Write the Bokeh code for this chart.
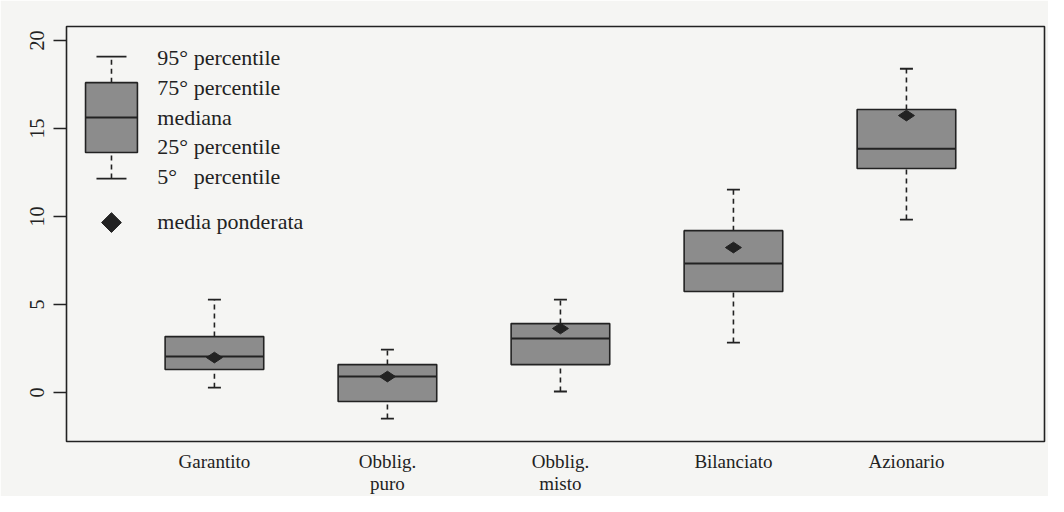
import math
from bokeh.plotting import figure
from bokeh.models import Range1d, FixedTicker, ColumnDataSource
from bokeh.core.properties import value
from bokeh.embed import file_html
from bokeh.resources import INLINE

# ---- data ----
categories = ["Garantito", "Obblig.\npuro", "Obblig.\nmisto", "Bilanciato", "Azionario"]
p05 = [0.28, -1.48, 0.06, 2.84, 9.83]
p25 = [1.31, -0.51, 1.59, 5.74, 12.73]
median = [2.05, 0.91, 3.07, 7.33, 13.86]
p75 = [3.18, 1.59, 3.92, 9.20, 16.08]
p95 = [5.28, 2.44, 5.28, 11.53, 18.40]
media_ponderata = [1.99, 0.91, 3.64, 8.24, 15.74]

legend_labels = ["95° percentile", "75° percentile", "mediana", "25° percentile",
                 "5°\u00a0\u00a0\u00a0percentile", "media ponderata"]

# ---- styling ----
BG = "#f5f5f3"
DARK = "#222222"
BOXFILL = "#8c8c8c"
FONT = "Liberation Serif, Times New Roman, serif"
BOX_W = 0.57

xs = list(range(1, len(categories) + 1))
src = ColumnDataSource(dict(x=xs, p05=p05, p25=p25, med=median, p75=p75, p95=p95,
                            mean=media_ponderata,
                            mid=[(a + b) / 2 for a, b in zip(p25, p75)],
                            h=[b - a for a, b in zip(p25, p75)]))

p = figure(width=1048, height=496, output_backend="svg", toolbar_location=None,
           x_range=Range1d(0.145, 5.798), y_range=Range1d(-2.78, 20.8),
           min_border_left=66, min_border_right=4, min_border_top=26, min_border_bottom=30,
           background_fill_color=BG, border_fill_color=BG)
p.grid.visible = False
p.outline_line_color = DARK
p.outline_line_width = 1.6

# whiskers
p.segment(x0="x", y0="p75", x1="x", y1="p95", source=src, line_color=DARK,
          line_width=1.6, line_dash="5 4")
p.segment(x0="x", y0="p05", x1="x", y1="p25", source=src, line_color=DARK,
          line_width=1.6, line_dash="5 4")
p.dash(x="x", y="p95", source=src, size=13, line_color=DARK, line_width=1.8)
p.dash(x="x", y="p05", source=src, size=13, line_color=DARK, line_width=1.8)
# boxes
p.rect(x="x", y="mid", width=BOX_W, height="h", source=src, fill_color=BOXFILL,
       line_color=DARK, line_width=1.6)
p.dash(x="x", y="med", source=src, size=98, line_color=DARK, line_width=2)
# weighted mean
p.scatter(x="x", y="mean", source=src, marker="diamond", size=16, angle=math.pi / 2,
          fill_color=DARK, line_color=DARK)

# ---- legend (drawn) ----
lx = 0.405
p.dash(x=[lx], y=[19.09], size=30, line_color=DARK, line_width=1.8)
p.dash(x=[lx], y=[12.16], size=30, line_color=DARK, line_width=1.8)
p.segment(x0=[lx, lx], y0=[17.61, 12.16], x1=[lx, lx], y1=[19.09, 13.64],
          line_color=DARK, line_width=1.6, line_dash="5 4")
p.rect(x=[lx], y=[15.625], width=0.30, height=[17.61 - 13.64], fill_color=BOXFILL,
       line_color=DARK, line_width=1.6)
p.dash(x=[lx], y=[15.63], size=52, line_color=DARK, line_width=1.8)
p.scatter(x=[lx], y=[9.66], marker="square", size=14, angle=math.pi / 4,
          fill_color=DARK, line_color=DARK)
p.text(x=[0.67] * 6, y=[19.03, 17.33, 15.63, 13.98, 12.27, 9.72], text=legend_labels,
       text_font=value(FONT), text_font_size="22px", text_color=DARK,
       text_baseline="middle", text_align="left")

# ---- axes ----
p.xaxis.ticker = FixedTicker(ticks=xs)
p.xaxis.major_label_overrides = {x: c for x, c in zip(xs, categories)}
p.xaxis.major_tick_line_color = None
p.xaxis.minor_tick_line_color = None
p.xaxis.axis_line_color = None
p.xaxis.major_label_standoff = 3
p.xaxis.major_label_text_line_height = 1.05
p.xaxis.major_label_text_font = FONT
p.xaxis.major_label_text_font_size = "19px"
p.xaxis.major_label_text_color = DARK

p.yaxis.ticker = FixedTicker(ticks=[0, 5, 10, 15, 20])
p.yaxis.major_label_orientation = "vertical"
p.yaxis.axis_line_color = None
p.yaxis.minor_tick_line_color = None
p.yaxis.major_tick_line_color = DARK
p.yaxis.major_tick_line_width = 1.5
p.yaxis.major_tick_out = 13
p.yaxis.major_tick_in = 0
p.yaxis.major_label_standoff = 9
p.yaxis.major_label_text_font = FONT
p.yaxis.major_label_text_font_size = "20px"
p.yaxis.major_label_text_color = DARK

open("out.html", "w").write(file_html(p, INLINE))
